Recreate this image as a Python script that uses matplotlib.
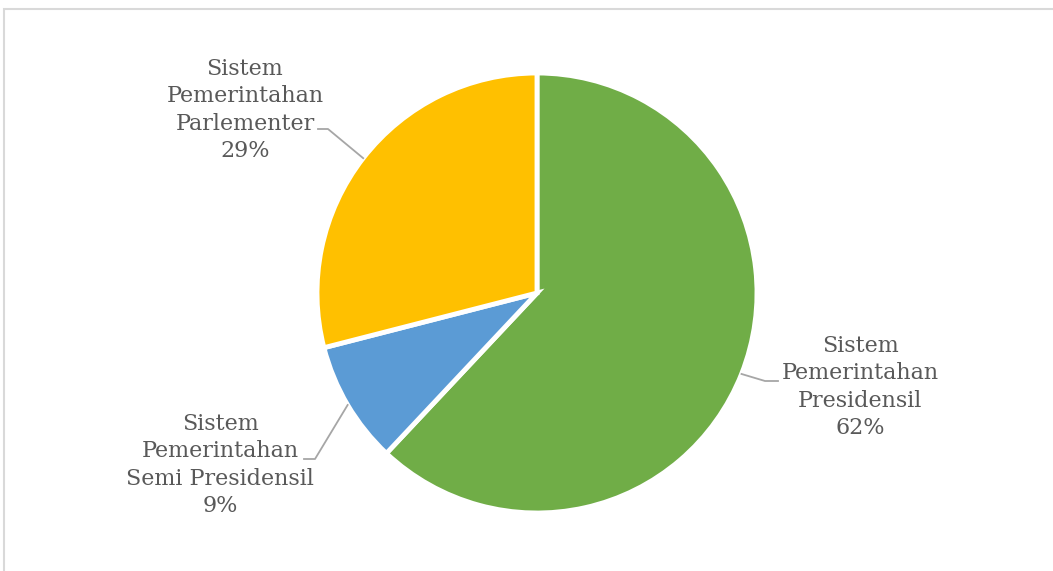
import matplotlib
matplotlib.use("Agg")
import matplotlib.pyplot as plt
import numpy as np

# Data
categories = ["Sistem\nPemerintahan\nPresidensil",
              "Sistem\nPemerintahan\nSemi Presidensil",
              "Sistem\nPemerintahan\nParlementer"]
values = [62, 9, 29]
colors = ["#70AD47", "#5B9BD5", "#FFC000"]

W, H = 1053, 571
fig = plt.figure(figsize=(W / 100, H / 100), dpi=100)
ax = fig.add_axes([0, 0, 1, 1])

cx, cy, r = 537, H - 293, 220
wedges, _ = ax.pie(values, colors=colors, startangle=90, counterclock=False,
                   center=(cx, cy), radius=r, frame=True,
                   wedgeprops=dict(edgecolor="white", linewidth=3.5))
ax.set_xlim(0, W)
ax.set_ylim(0, H)
ax.set_aspect("equal")
ax.axis("off")

# chart frame
ax.plot([4, 4, W + 5], [-5, H - 9, H - 9], color="#D9D9D9", lw=1.5,
        solid_joinstyle="miter", clip_on=False)

# label layout: text center, elbow point, elbow end (pixel coords, y from top)
label_layout = [
    dict(text=(860, 387), elbow=[(765, 381), (778, 381)]),
    dict(text=(220, 465), elbow=[(315, 459), (304, 459)]),
    dict(text=(245, 110), elbow=[(328, 129), (318, 129)]),
]

txtcol = "#595959"
linecol = "#A6A6A6"
for w, cat, v, lay in zip(wedges, categories, values, label_layout):
    ang = np.deg2rad((w.theta1 + w.theta2) / 2)
    px, py = cx + r * np.cos(ang), cy + r * np.sin(ang)
    xs = [px] + [p[0] for p in lay["elbow"]]
    ys = [py] + [H - p[1] for p in lay["elbow"]]
    ax.plot(xs, ys, color=linecol, lw=1.3)
    tx, ty = lay["text"]
    ax.text(tx, H - ty, f"{cat}\n{v}%", ha="center", va="center",
            multialignment="center", fontsize=16, family="DejaVu Serif",
            color=txtcol, linespacing=1.31)

fig.savefig("out.png", dpi=100, facecolor="white")
